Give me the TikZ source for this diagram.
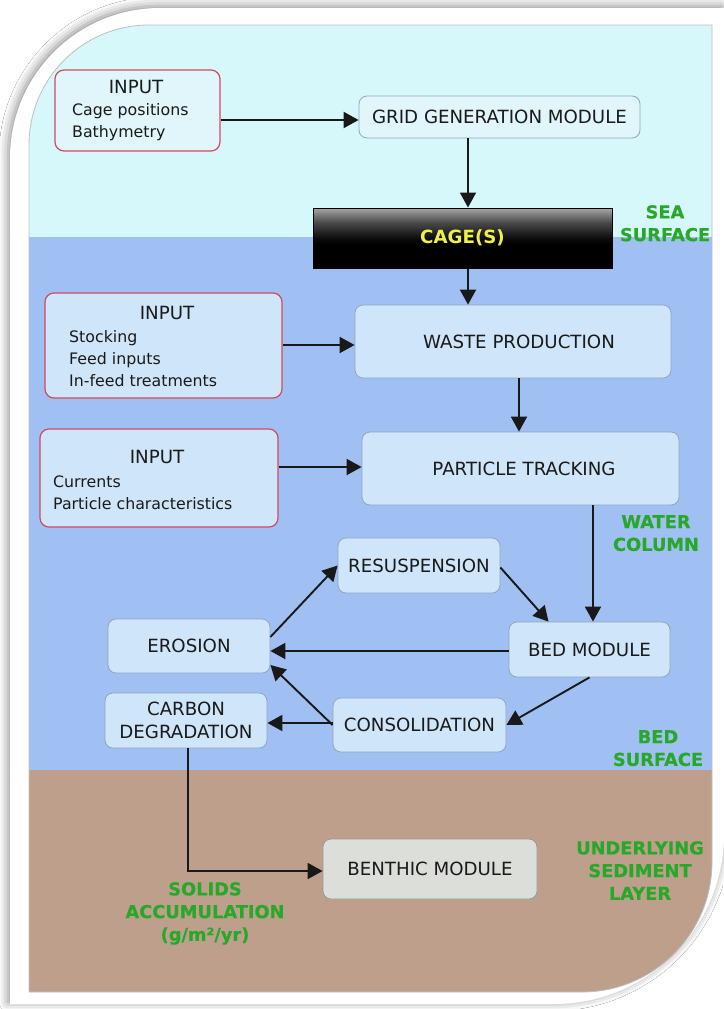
\documentclass[tikz,border=0pt]{standalone}
\usepackage{fontspec}
\setmainfont{DejaVu Sans}
\newfontfamily\zonefamily[BoldFeatures={FakeBold=0.4}]{DejaVu Sans}
\usetikzlibrary{arrows.meta,shadows.blur}
\definecolor{cyanbg}{HTML}{D6F8FA}
\definecolor{bluebg}{HTML}{A0BFF2}
\definecolor{brownbg}{HTML}{BE9F8C}
\definecolor{boxfill}{HTML}{CFE5F9}
\definecolor{boxfilltop}{HTML}{E0F6FA}
\definecolor{boxline}{HTML}{90A6BE}
\definecolor{inputline}{HTML}{D24A5C}
\definecolor{benthicfill}{HTML}{DCDEDA}
\definecolor{labelgreen}{HTML}{28A828}
\definecolor{cageyellow}{HTML}{F0F04A}
\definecolor{txt}{HTML}{1A1A1A}
\newcommand\fnode{\fontsize{18.2}{23}\selectfont}
\newcommand\fitem{\fontsize{15.8}{22}\selectfont}
\newcommand\fzone{\zonefamily\bfseries\fontsize{17.8}{22.7}\selectfont}
\newcommand\fcage{\bfseries\fontsize{18.2}{23}\selectfont}
\pgfdeclareverticalshading{cageshade}{100bp}{color(0bp)=(black); color(45bp)=(black); color(50bp)=(black!95); color(62.5bp)=(black!72); color(75bp)=(black!35); color(100bp)=(black!35)}
\begin{document}
\begin{tikzpicture}[x=1pt,y=-1pt,
  mod/.style={draw=boxline, fill=boxfill, rounded corners=8pt, line width=0.8pt, inner sep=0pt, text=txt, font=\fnode, align=center},
  inbox/.style={draw=inputline, fill=boxfill, rounded corners=9pt, line width=1.2pt, inner sep=0pt},
  arr/.style={draw=black!90, line width=1.9pt, -{Triangle[length=15pt,width=16pt]}},
  zone/.style={text=labelgreen, font=\fzone, align=center, anchor=north, inner sep=0pt},
  item/.style={anchor=base west, inner sep=0pt, text=txt, font=\fitem},
  ttl/.style={anchor=base, inner sep=0pt, text=txt, font=\fnode}]
\useasboundingbox (0,0) rectangle (723,1009);
\fill[white] (0,0) rectangle (723,1009);
% frame
\fill[white, blur shadow={shadow xshift=-2pt, shadow yshift=2pt, shadow blur radius=9pt, shadow opacity=45}]
  (10,158) arc[start angle=180,end angle=90,radius=150pt] -- (724,8) -- (724,834)
  arc[start angle=0,end angle=-90,radius=170pt] -- (10,1004) -- cycle;
\begin{scope}
\clip (29,145) arc[start angle=180,end angle=90,radius=120pt] -- (712,25) -- (712,862)
  arc[start angle=0,end angle=-90,radius=130pt] -- (29,992) -- cycle;
\fill[cyanbg] (0,0) rectangle (723,237);
\fill[bluebg] (0,237) rectangle (723,770);
\fill[brownbg] (0,770) rectangle (723,1009);
\end{scope}
\draw[black!25, line width=0.8pt] (29,145) arc[start angle=180,end angle=90,radius=120pt] -- (712,25) -- (712,862)
  arc[start angle=0,end angle=-90,radius=130pt] -- (29,992) -- cycle;

% input boxes
\node[inbox, fill=boxfilltop, minimum width=165pt, minimum height=81pt] (in1) at (137.5,110.5) {};
\node[ttl] (in1h) at (136,93) {INPUT};
\node[item] (in1a) at (72,115.5) {Cage positions};
\node[item] (in1b) at (72,137.5) {Bathymetry};

\node[inbox, minimum width=237pt, minimum height=105pt] (in2) at (163.5,345.5) {};
\node[ttl] (in2h) at (167,319) {INPUT};
\node[item] (in2a) at (69,342.5) {Stocking};
\node[item] (in2b) at (69,364.5) {Feed inputs};
\node[item] (in2c) at (69,386.5) {In-feed treatments};

\node[inbox, minimum width=238pt, minimum height=98pt] (in3) at (159,478) {};
\node[ttl] (in3h) at (157,463) {INPUT};
\node[item] (in3a) at (53,487.5) {Currents};
\node[item] (in3b) at (53,509.5) {Particle characteristics};

% modules
\node[mod, fill=boxfilltop, minimum width=281pt, minimum height=42pt] (grid) at (499.5,117) {GRID GENERATION MODULE};
\node[draw=black, line width=1pt, shading=cageshade, minimum width=299pt, minimum height=60pt, inner sep=0pt, text=cageyellow, font=\fcage] (cage) at (462.5,238) {\raisebox{-3pt}{CAGE(S)}};
\node[mod, minimum width=316pt, minimum height=73pt] (waste) at (513,341.5) {\hspace*{12pt}WASTE PRODUCTION};
\node[mod, minimum width=317pt, minimum height=73pt] (part) at (520.5,468.5) {\hspace*{7pt}PARTICLE TRACKING};
\node[mod, minimum width=162pt, minimum height=55pt] (resus) at (419,565.5) {RESUSPENSION};
\node[mod, minimum width=162pt, minimum height=54pt] (eros) at (189,646) {EROSION};
\node[mod, minimum width=161pt, minimum height=55pt] (bed) at (589.5,649.5) {BED MODULE};
\node[mod, minimum width=162pt, minimum height=55pt] (carbon) at (186,720.5) {CARBON\\DEGRADATION};
\node[mod, minimum width=173pt, minimum height=54pt] (consol) at (419.5,725) {CONSOLIDATION};
\node[mod, fill=benthicfill, draw=black!40, minimum width=214pt, minimum height=60pt] (benthic) at (430,869) {BENTHIC MODULE};

% zone labels
\node[zone] (zsea) at (665,205) {SEA\\SURFACE};
\node[zone] (zwater) at (656,515) {WATER\\COLUMN};
\node[zone] (zbed) at (658,730) {BED\\SURFACE};
\node[zone] (zsed) at (640,841) {UNDERLYING\\SEDIMENT\\LAYER};
\node[zone] (zsol) at (205,882) {SOLIDS\\ACCUMULATION\\(g/m²/yr)};

% connectors
\draw[arr] (in1.east |- 0,120) -- (grid.west |- 0,120);
\draw[arr] (grid.south -| 468,0) -- (cage.north -| 468,0);
\draw[arr] (cage.south -| 468,0) -- (waste.north -| 468,0);
\draw[arr] (in2.east |- 0,345) -- (waste.west |- 0,345);
\draw[arr] (waste.south -| 519,0) -- (part.north -| 519,0);
\draw[arr] (in3.east |- 0,467) -- (part.west |- 0,467);
\draw[arr] (part.south -| 593,0) -- (bed.north -| 593,0);
\draw[arr] ([yshift=-2pt]resus.east) -- ([xshift=-41pt]bed.north);
\draw[arr] ([yshift=9pt]eros.east) -- (resus.west);
\draw[arr] (bed.west |- 0,651) -- (eros.east |- 0,651);
\draw[arr] (consol.west) -- ([yshift=-19pt]eros.east);
\draw[arr] ([yshift=2pt]consol.west) -- ([yshift=2pt]consol.west -| carbon.east);
\draw[arr] (bed.south) -- (consol.east);
\draw[arr] ([xshift=2pt]carbon.south) |- ([yshift=-2pt]benthic.west);
\end{tikzpicture}
\end{document}
